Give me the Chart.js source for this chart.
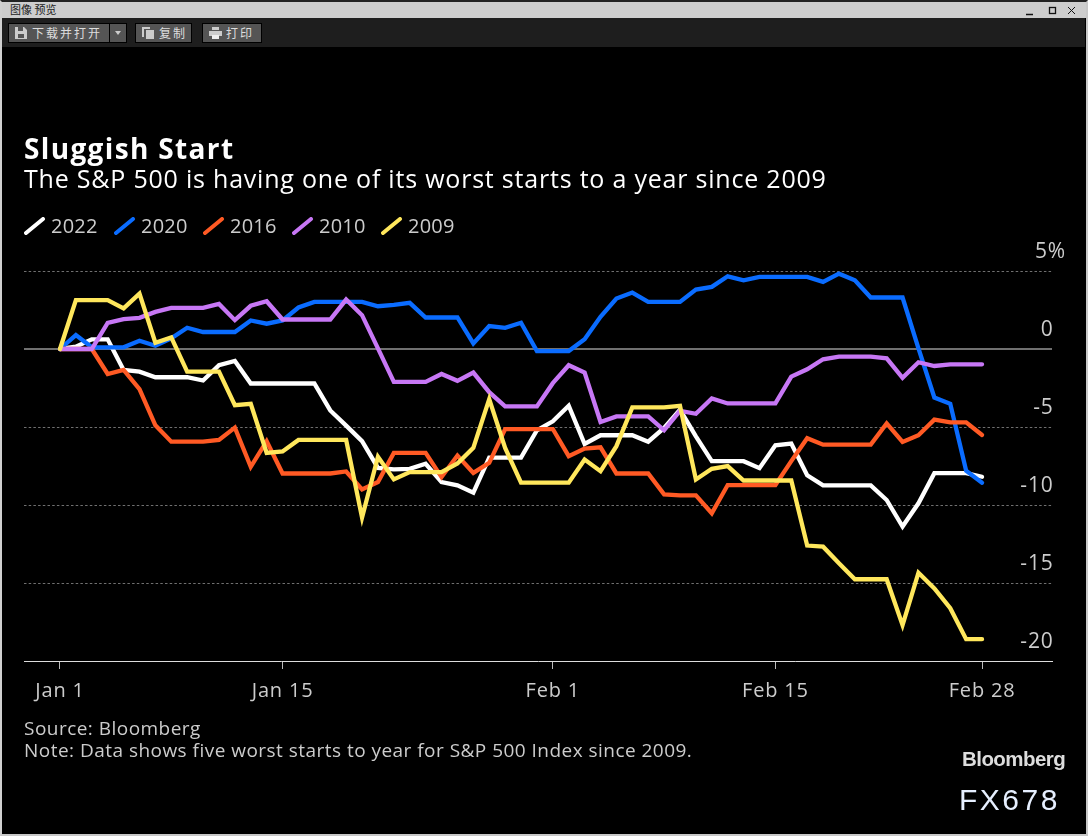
<!DOCTYPE html>
<html lang="zh">
<head>
<meta charset="utf-8">
<title>Sluggish Start</title>
<script src="https://cdn.jsdelivr.net/npm/chart.js@4"></script>
<style>
html, body { margin: 0; padding: 0; background: #000; }
#page { position: relative; width: 1088px; height: 836px; background: #000; overflow: hidden; font-family: "Open Sans", sans-serif; }
#frame { position: absolute; left: 0; top: 0; width: 1084px; height: 832px; border: 2px solid #c8c8c8; border-top-color: #222; border-left-color: #d0d0d0; pointer-events: none; z-index: 5; }
#titlebar { position: absolute; left: 0; top: 0; width: 1088px; height: 18px; background: #cdcdcd; color: #222; font: 11px "Noto Sans CJK SC", sans-serif; line-height: 19px; text-indent: 10px; }
.winbtn { position: absolute; top: 6px; }
#toolbar { position: absolute; left: 2px; top: 18px; width: 1083px; height: 29px; background: #1e1e1e; }
.btn { position: absolute; top: 5px; height: 18px; background: #555; border: 1px solid #000; color: #ddd; font: 12px "Noto Sans CJK SC", sans-serif; line-height: 18px; letter-spacing: 2px; white-space: nowrap; }
.btn svg { position: absolute; left: 6px; top: 3px; }
.btn span { position: absolute; left: 23px; top: 0; }
#chartBox { position: absolute; left: 0; top: 0; width: 1088px; height: 836px; }
.txt { position: absolute; white-space: nowrap; }
#heading { left: 24px; top: 129px; font-size: 28px; font-weight: 700; color: #fff; letter-spacing: 1.35px; }
#subheading { left: 24px; top: 161px; font-size: 25px; color: #fff; letter-spacing: 0.79px; }
#legend { position: absolute; left: 24px; top: 212px; height: 28px; }
.legItem { position: absolute; top: 0; height: 28px; color: #ccc; font-size: 20px; line-height: 28px; letter-spacing: 0.2px; }
.legItem svg { position: absolute; left: 0; top: 5px; }
.legItem span { position: absolute; left: 27px; top: 0; }
#source { left: 24px; top: 717px; font-size: 19px; line-height: 22px; color: #ccc; letter-spacing: 0.47px; }
#logo { left: 962px; top: 747px; font-family: "Liberation Sans", sans-serif; font-weight: 700; font-size: 20.5px; color: #ddd; letter-spacing: -0.55px; }
#code { left: 959px; top: 783px; font-family: "Liberation Sans", sans-serif; font-size: 30px; color: #e6efff; letter-spacing: 2.5px; }
</style>
</head>
<body>
<div id="page">
  <div id="chartBox"><canvas id="myChart" width="1088" height="836"></canvas></div>
  <div id="titlebar">图像 预览
    <svg class="winbtn" style="left:1026px" width="50" height="10" viewBox="0 0 50 10">
      <path d="M0 8.5H7" stroke="#111" stroke-width="1.5"/>
      <rect x="23.5" y="1.5" width="6" height="6" fill="none" stroke="#111" stroke-width="1.3"/>
      <path d="M42 1L49 8M49 1L42 8" stroke="#111"/>
    </svg>
  </div>
  <div id="toolbar">
    <div class="btn" style="left:6px;width:100px"><svg width="12" height="12" viewBox="0 0 12 12"><path d="M0 0H9L12 3V12H0Z" fill="#ccc"/><rect x="3" y="0" width="5" height="4" fill="#555"/><rect x="3" y="7" width="6" height="4" fill="#555"/></svg><span>下载并打开</span></div>
    <div class="btn" style="left:107px;width:16px"><svg style="left:5px;top:7px" width="6" height="4"><path d="M0 0H6L3 4Z" fill="#ccc"/></svg></div>
    <div class="btn" style="left:133px;width:55px"><svg width="12" height="12" viewBox="0 0 12 12"><path d="M0 0H8V2H2V10H0Z" fill="#ccc"/><rect x="4" y="3" width="8" height="9" fill="#ccc"/></svg><span>复制</span></div>
    <div class="btn" style="left:200px;width:58px"><svg width="13" height="12" viewBox="0 0 13 12"><rect x="3" y="0" width="7" height="3" fill="#ccc"/><rect x="0" y="4" width="13" height="5" fill="#ccc"/><rect x="3" y="8" width="7" height="4" fill="#eee"/></svg><span>打印</span></div>
  </div>
  <div id="heading" class="txt">Sluggish Start</div>
  <div id="subheading" class="txt">The S&amp;P 500 is having one of its worst starts to a year since 2009</div>
  <div id="legend"></div>
  <div id="source" class="txt">Source: Bloomberg<br>Note: Data shows five worst starts to year for S&amp;P 500 Index since 2009.</div>
  <div id="logo" class="txt">Bloomberg</div>
  <div id="code" class="txt">FX678</div>
  <div id="frame"></div>
</div>
<script>
// days since Jan 1
const days = [
    0,1,2,3,4,5,6,7,8,9,10,11,12,13,14,15,16,17,18,19,
    20,21,22,23,24,25,26,27,28,29,30,31,32,33,34,35,36,37,38,39,
    40,41,42,43,44,45,46,47,48,49,50,51,52,53,54,55,56,57,58
];

const seriesNames = ["2022", "2020", "2016", "2010", "2009"];
const seriesColors = ["#ffffff", "#0a6cff", "#ff5a24", "#c777f5", "#ffe75c"];

const values2022 = [
    0,0.15,0.62,0.62,-1.34,-1.45,-1.81,-1.81,-1.81,-2.02,
    -1.04,-0.77,-2.21,-2.21,-2.21,-2.21,-2.21,-3.94,-4.91,-5.91,
    -7.62,-7.72,-7.68,-7.36,-8.53,-8.74,-9.21,-6.96,-6.96,-6.96,
    -5.21,-4.64,-3.64,-6.09,-5.53,-5.53,-5.53,-5.94,-5.06,-3.89,
    -5.6,-7.19,-7.19,-7.19,-7.64,-6.17,-6.06,-8.09,-8.74,-8.74,
    -8.74,-8.74,-9.68,-11.38,-9.89,-7.96,-7.96,-7.96,-8.19
];
const values2020 = [
    0,0.89,0.11,0.11,0.11,0.53,0.21,0.68,1.36,1.09,
    1.09,1.09,1.83,1.62,1.83,2.66,3.02,3.02,3.02,3.02,
    2.74,2.83,2.96,2.02,2.02,2.02,0.36,1.47,1.36,1.68,
    -0.13,-0.13,-0.13,0.62,2.06,3.23,3.62,3.02,3.02,3.02,
    3.81,3.98,4.66,4.4,4.62,4.62,4.62,4.62,4.3,4.83,
    4.4,3.3,3.3,3.3,0.04,-3.11,-3.51,-7.81,-8.57
];
const values2016 = [
    0,0,0,-1.6,-1.34,-2.57,-4.89,-5.94,-5.94,-5.94,
    -5.83,-5.04,-7.55,-5.91,-7.98,-7.98,-7.98,-7.98,-7.85,-9,
    -8.53,-6.66,-6.66,-6.66,-8.21,-6.83,-7.94,-7.3,-5.13,-5.13,
    -5.13,-5.13,-6.87,-6.38,-6.3,-7.98,-7.98,-7.98,-9.32,-9.38,
    -9.38,-10.53,-8.72,-8.72,-8.72,-8.72,-7.19,-5.72,-6.13,-6.13,
    -6.13,-6.13,-4.77,-5.96,-5.53,-4.53,-4.7,-4.7,-5.51
];
const values2010 = [
    0,0,0,1.68,1.91,2,2.38,2.64,2.64,2.64,
    2.89,1.85,2.77,3.06,1.89,1.89,1.89,1.89,3.17,2.17,
    0.04,-2.11,-2.11,-2.11,-1.6,-2.04,-1.51,-2.77,-3.68,-3.68,
    -3.68,-2.19,-1.04,-1.51,-4.68,-4.32,-4.32,-4.32,-5.21,-3.96,
    -4.15,-3.17,-3.49,-3.49,-3.49,-3.49,-1.77,-1.3,-0.66,-0.49,
    -0.49,-0.49,-0.6,-1.85,-0.85,-1.09,-0.98,-0.98,-0.98
];
const values2009 = [
    0,3.13,3.13,3.13,2.6,3.55,0.4,0.74,-1.45,-1.45,
    -1.45,-3.6,-3.51,-6.66,-6.57,-5.83,-5.83,-5.83,-5.83,-10.81,
    -6.91,-8.36,-7.89,-7.89,-7.89,-7.34,-6.34,-3.21,-6.34,-8.57,
    -8.57,-8.57,-8.57,-7.09,-7.83,-6.23,-3.74,-3.74,-3.74,-3.64,
    -8.36,-7.68,-7.51,-8.43,-8.43,-8.43,-8.43,-12.6,-12.67,-13.74,
    -14.76,-14.76,-14.76,-17.7,-14.34,-15.35,-16.62,-18.6,-18.6
];
const seriesValues = [values2022, values2020, values2016, values2010, values2009];

const xTickDays = [0, 14, 31, 45, 58];
const xTickLabels = ["Jan 1", "Jan 15", "Feb 1", "Feb 15", "Feb 28"];
const yTickValues = [5, 0, -5, -10, -15, -20];
// the trailing spaces let the % hang past the right edge of the numbers
const yTickLabels = ["5%", "0\u00a0\u00a0", "-5\u00a0\u00a0", "-10\u00a0\u00a0", "-15\u00a0\u00a0", "-20\u00a0\u00a0"];

// legend, same spots as the picture
const legendLefts = [0, 90, 179, 268, 357];
const legend = document.getElementById("legend");
seriesNames.forEach((name, i) => {
    const item = document.createElement("div");
    item.className = "legItem";
    item.style.left = legendLefts[i] + "px";
    item.innerHTML = `<svg width="22" height="20"><path d="M2 16L19 2" stroke="${seriesColors[i]}" stroke-width="4" stroke-linecap="round"/></svg><span>${name}</span>`;
    legend.appendChild(item);
});

const datasets = seriesNames.map((name, i) => ({
    label: name,
    data: seriesValues[i],
    borderColor: seriesColors[i],
    borderWidth: 4.3,
    pointRadius: 0,
    tension: 0,
    fill: false,
    borderCapStyle: "round",
    borderJoinStyle: "miter",
    order: seriesNames.length - i   // 2009 on top
}));

// tick labels in the picture are spaced a bit wider than the font
const tickSpacing = {
    id: "tickSpacing",
    beforeDraw: chart => { chart.ctx.letterSpacing = "0.8px"; }
};

new Chart(document.getElementById("myChart"), {
    type: "line",
    data: { labels: days, datasets: datasets },
    plugins: [tickSpacing],
    options: {
        responsive: false,
        animation: false,
        layout: { padding: { left: 24, right: 36, top: 271, bottom: 125 } },
        plugins: { legend: { display: false }, title: { display: false }, tooltip: { enabled: false } },
        scales: {
            x: {
                type: "linear",
                min: -2.264,
                max: 62.4,
                afterBuildTicks: scale => { scale.ticks = xTickDays.map(d => ({ value: d })); },
                afterFit: scale => { scale.height = 50; },
                grid: { drawOnChartArea: false, drawTicks: true, tickLength: 8, tickColor: "#bbbbbb", tickWidth: 1 },
                border: { color: "#dddddd", width: 1 },
                ticks: {
                    autoSkip: false,
                    maxRotation: 0,
                    padding: 10,
                    color: "#cccccc",
                    font: { family: "'Open Sans'", size: 20 },
                    callback: value => xTickLabels[xTickDays.indexOf(value)]
                }
            },
            y: {
                position: "right",
                min: -20,
                max: 5,
                afterBuildTicks: scale => { scale.ticks = yTickValues.map(v => ({ value: v })); },
                afterFit: scale => { scale.width = 0; },
                grid: {
                    drawTicks: false,
                    lineWidth: ctx => (ctx.tick && ctx.tick.value === 0) ? 2 : 1,
                    color: ctx => (ctx.tick && ctx.tick.value === -20) ? "rgba(0,0,0,0)" : "#707070"
                },
                border: { display: false, dash: ctx => (ctx.tick && ctx.tick.value === 0) ? [] : [2.5, 2.2] },
                ticks: {
                    mirror: true,
                    padding: 14,
                    labelOffset: -19,
                    color: "#cccccc",
                    font: { family: "'Open Sans'", size: 21 },
                    callback: value => yTickLabels[yTickValues.indexOf(value)]
                }
            }
        }
    }
});
</script>
</body>
</html>
